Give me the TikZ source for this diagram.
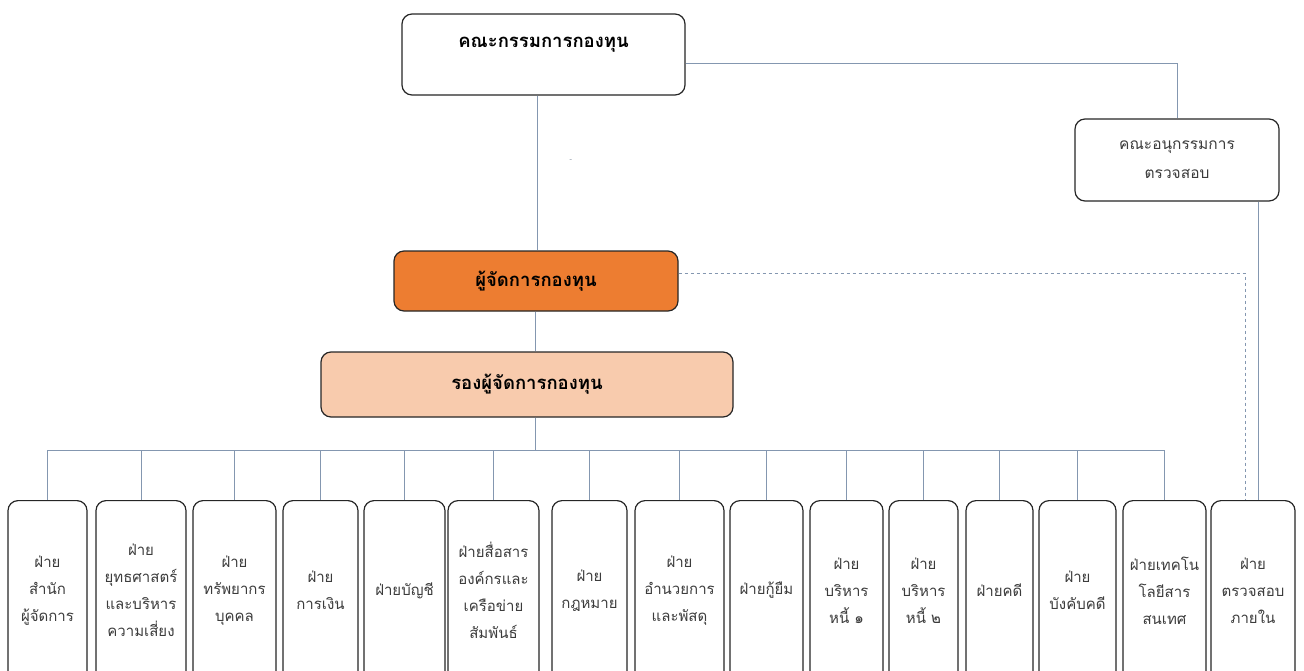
\documentclass[tikz,border=0pt]{standalone}
\usepackage{fontspec}
\newfontfamily\thaifont[Script=Thai]{Loma}
\usepackage{xcolor}
\definecolor{linegray}{RGB}{132,151,176}
\definecolor{mgrorange}{RGB}{237,125,49}
\definecolor{deppeach}{RGB}{248,203,173}
\definecolor{textgray}{RGB}{60,60,60}

\begin{document}
\begin{tikzpicture}[x=1pt,y=1pt,
		box/.style={draw=black!85,line width=1.2pt,rounded corners=10pt,fill=white,align=center,inner sep=0pt},
		dept/.style={box,minimum height=180,anchor=north,font=\thaifont\fontsize{15}{27}\selectfont,text=textgray},
		head/.style={font=\thaifont\bfseries\fontsize{18.5}{22}\selectfont},
		conn/.style={draw=linegray,line width=1pt}]
				\useasboundingbox (0,0) rectangle (1304,-670);
				\clip (0,0) rectangle (1304,-670);
				\node[box,minimum width=283,minimum height=81] (board) at (543.5,-54.5) {};
				\node[head] (boardtxt) at (543.5,-45) {คณะกรรมการกองทุน};
				\node[box,minimum width=204,minimum height=82,font=\thaifont\fontsize{15.5}{29}\selectfont,text=textgray] (sub) at (1177,-160) {คณะอนุกรรมการ\\ตรวจสอบ};
				\node[box,fill=mgrorange,minimum width=284,minimum height=60,head] (mgr) at (536,-281) {ผู้จัดการกองทุน};
				\node[box,fill=deppeach,minimum width=412,minimum height=65,head] (dep) at (527,-384.5) {รองผู้จัดการกองทุน};
				\node[font=\scriptsize,text=linegray!80!black] (dash) at (571,-161) {-};
				\foreach \cx/\w/\txt [count=\i] in {47.5/79/{ฝ่าย\\สำนัก\\ผู้จัดการ},141/90/{ฝ่าย\\ยุทธศาสตร์\\และบริหาร\\ความเสี่ยง},234.5/83/{ฝ่าย\\ทรัพยากร\\บุคคล},320.5/75/{ฝ่าย\\การเงิน},404.5/81/{ฝ่ายบัญชี},493.5/91/{ฝ่ายสื่อสาร\\องค์กรและ\\เครือข่าย\\สัมพันธ์},589.5/75/{ฝ่าย\\กฎหมาย},679.5/89/{ฝ่าย\\อำนวยการ\\และพัสดุ},766.5/73/{ฝ่ายกู้ยืม},846.5/73/{ฝ่าย\\บริหาร\\หนี้ ๑},923.5/69/{ฝ่าย\\บริหาร\\หนี้ ๒},999.5/67/{ฝ่ายคดี},1077.5/77/{ฝ่าย\\บังคับคดี},1164.5/83/{ฝ่ายเทคโน\\โลยีสาร\\สนเทศ},1253/84/{ฝ่าย\\ตรวจสอบ\\ภายใน}} {
					\node[dept,minimum width=\w] (b\i) at (\cx,-500) {\txt};
				}
				\coordinate (bus) at (535,-450);
				\coordinate (audit) at (1258,-300);
				\draw[conn] (board.south -| 537,0) -- (mgr.north -| 537,0);
				\draw[conn] ([yshift=-8.5]board.east) -| (sub.north);
				\draw[conn] (sub.south -| audit) -- (b15.north -| audit);
				\draw[conn,dashed] ([yshift=8]mgr.east) -| ([xshift=-8]b15.north);
				\draw[conn] (mgr.south -| bus) -- (dep.north -| bus);
				\draw[conn] (dep.south -| bus) -- (bus);
				\foreach \i in {1,...,14} {
					\draw[conn] (b\i.north) |- (bus);
				}
			\end{tikzpicture}
\end{document}
